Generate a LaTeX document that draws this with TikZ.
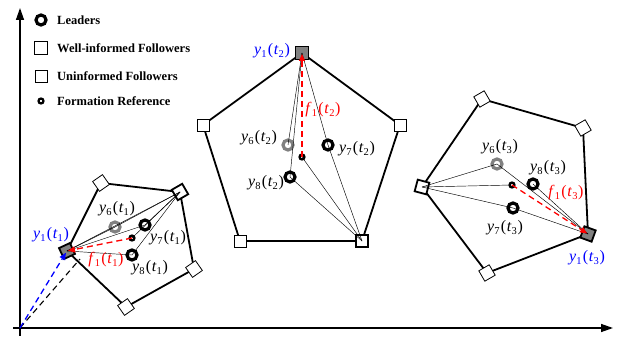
\documentclass[tikz,border=0pt]{standalone}
\usepackage{fontspec}
\setmainfont{Liberation Serif}
\usetikzlibrary{arrows.meta}
\pgfdeclarelayer{bg}\pgfsetlayers{bg,main}
\newcommand\ylab[3]{\textit{#1}\kern0.2pt\raisebox{-0.4ex}{\fontsize{10.5}{10.5}\selectfont #2}\kern1.2pt(\kern0.6pt\textit{t}\kern0.2pt\raisebox{-0.4ex}{\fontsize{10.5}{10.5}\selectfont #3}\kern0.6pt)}
\begin{document}
\begin{tikzpicture}[x=1pt,y=-1pt,
  unf/.style={rectangle,draw,fill=white,line width=0.8pt,minimum size=12pt,inner sep=0pt},
  wel/.style={unf,line width=1.8pt},
  ldsq/.style={wel,fill=gray},
  ldr/.style={circle,draw,line width=3.2pt,fill=white,minimum size=10pt,inner sep=0pt},
  ldrg/.style={ldr,draw=gray},
  fref/.style={circle,draw,line width=2.2pt,fill=white,minimum size=5pt,inner sep=0pt},
  thinl/.style={line width=0.45pt},
  poly/.style={line width=1.8pt},
  axis/.style={line width=1.4pt,-{Triangle[length=12pt,width=8pt]}},
  lab/.style={font=\fontsize{16}{16}\selectfont,inner sep=0pt},
  lgt/.style={font=\fontsize{12.5}{12.5}\selectfont\bfseries,inner sep=0pt,anchor=west},
  rarr/.style={red,line width=1.3pt,dash pattern=on 6pt off 4pt,-{Triangle[length=7pt,width=6pt]}},
  barr/.style={blue,line width=1.3pt,dash pattern=on 6pt off 4pt,-{Triangle[length=7pt,width=6pt]}},
  kdash/.style={black,line width=1.1pt,dash pattern=on 6pt off 4pt}
]
\useasboundingbox (0,0) rectangle (619,339);
% axes
\coordinate (O) at (20,328);
\coordinate (xs) at (13,328);
\coordinate (xe) at (613,328);
\coordinate (ys) at (20,336);
\coordinate (ye) at (20,8);
\draw[axis] (xs) -- (xe);
\draw[axis] (ys) -- (ye);
% legend
\node[ldr] (lg1) at (41,20) {};
\node[lgt] (lt1) at (57,20) {Leaders};
\node[wel,minimum size=13pt] (lg2) at (41,48) {};
\node[lgt] (lt2) at (57,48) {Well-informed Followers};
\node[unf,minimum size=12pt] (lg3) at (41,76) {};
\node[lgt] (lt3) at (57,76) {Uninformed Followers};
\node[fref] (lg4) at (41,101) {};
\node[lgt] (lt4) at (57,101) {Formation Reference};

% ---------- left formation (t1)
\node[ldsq,rotate=25] (A1) at (67,251) {};
\node[unf,rotate=35] (A2) at (101,183) {};
\node[wel,rotate=30] (A3) at (180,192) {};
\node[unf,rotate=35] (A4) at (194,269) {};
\node[unf,rotate=35] (A5) at (126,307) {};
\node[ldrg] (a6) at (115,227) {};
\node[ldr] (a7) at (145,225) {};
\node[fref] (ar) at (132,238) {};
\node[ldr] (a8) at (132,255) {};
\begin{pgfonlayer}{bg}
\draw[poly] (A1.center) -- (A2.center) -- (A3.center) -- (A4.center) -- (A5.center) -- cycle;
\end{pgfonlayer}
\draw[thinl] (A1.center) -- (A3.center);
\draw[thinl] (A1.center) -- (a6.center);
\draw[thinl] (A1.center) -- (a7.center);
\draw[thinl] (A1.center) -- (a8.center);
\draw[thinl] (A3.center) -- (a6.center);
\draw[thinl] (A3.center) -- (a7.center);
\draw[thinl] (A3.center) -- (ar.center);
\draw[thinl] (A3.center) -- (a8.center);
\coordinate (kd) at (80,259);
\draw[kdash] (O) -- (kd);
\draw[barr,shorten >=2pt] (O) -- (A1.center);
\draw[rarr,shorten >=1pt] (ar.center) -- (A1.center);
\node[lab,blue] (l1a) at (51,235) {\ylab{y}{1}{1}};
\node[lab,red] (lfa) at (106,260) {\ylab{f}{1}{1}};
\node[lab] (l6a) at (117,209) {\ylab{y}{6}{1}};
\node[lab] (l7a) at (168,238) {\ylab{y}{7}{1}};
\node[lab] (l8a) at (150,268) {\ylab{y}{8}{1}};

% ---------- middle formation (t2)
\node[ldsq,minimum size=13pt] (B1) at (302,53) {};
\node[unf] (B2) at (400,125) {};
\node[wel] (B3) at (362,241) {};
\node[unf] (B4) at (240,241) {};
\node[unf] (B5) at (203,125) {};
\node[ldrg] (b6) at (288,145) {};
\node[ldr] (b7) at (328,145) {};
\node[fref] (br) at (302,157) {};
\node[ldr] (b8) at (290,177) {};
\begin{pgfonlayer}{bg}
\draw[poly] (B1.center) -- (B2.center) -- (B3.center) -- (B4.center) -- (B5.center) -- cycle;
\end{pgfonlayer}
\draw[thinl] (B1.center) -- (b6.center);
\draw[thinl] (B1.center) -- (b8.center);
\draw[thinl] (B1.center) -- (b7.center);
\draw[thinl] (B3.center) -- (b7.center);
\draw[thinl] (B3.center) -- (br.center);
\draw[thinl] (B3.center) -- (b8.center);
\draw[rarr,shorten >=1pt] (br.center) -- (B1.center);
\node[lab,blue] (l1b) at (272,51) {\ylab{y}{1}{2}};
\node[lab,red] (lfb) at (323,110) {\ylab{f}{1}{2}};
\node[lab] (l6b) at (259,138) {\ylab{y}{6}{2}};
\node[lab] (l7b) at (357,149) {\ylab{y}{7}{2}};
\node[lab] (l8b) at (266,183) {\ylab{y}{8}{2}};

% ---------- right formation (t3)
\node[wel,rotate=-15] (C1) at (422,187) {};
\node[unf,rotate=30] (C2) at (482,99) {};
\node[unf,rotate=30] (C3) at (583,128) {};
\node[ldsq,rotate=-20] (C4) at (588,234) {};
\node[unf,rotate=30] (C5) at (487,273) {};
\node[ldrg] (c6) at (497,164) {};
\node[fref] (cr) at (512,185) {};
\node[ldr] (c8) at (533,184) {};
\node[ldr] (c7) at (513,208) {};
\begin{pgfonlayer}{bg}
\draw[poly] (C1.center) -- (C2.center) -- (C3.center) -- (C4.center) -- (C5.center) -- cycle;
\end{pgfonlayer}
\draw[thinl] (C1.center) -- (c6.center);
\draw[thinl] (C1.center) -- (cr.center);
\draw[thinl] (C1.center) -- (c7.center);
\draw[thinl] (C4.center) -- (c6.center);
\draw[thinl] (C4.center) -- (c8.center);
\draw[thinl] (C4.center) -- (c7.center);
\draw[rarr,shorten >=1pt] (cr.center) -- (C4.center);
\node[lab,blue] (l1c) at (587,258) {\ylab{y}{1}{3}};
\node[lab,red] (lfc) at (566,193) {\ylab{f}{1}{3}};
\node[lab] (l6c) at (500,147) {\ylab{y}{6}{3}};
\node[lab] (l7c) at (505,228) {\ylab{y}{7}{3}};
\node[lab] (l8c) at (548,168) {\ylab{y}{8}{3}};
\end{tikzpicture}
\end{document}
